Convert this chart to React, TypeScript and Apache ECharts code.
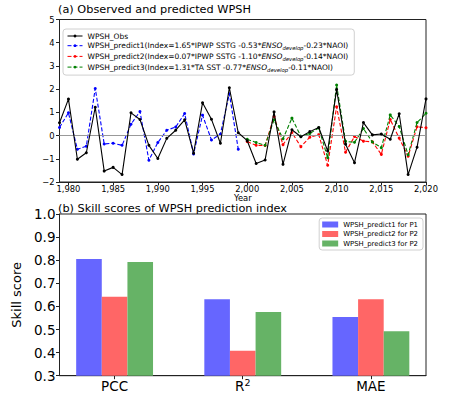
import React, { useEffect, useRef } from 'react';
import * as echarts from 'echarts';

const years = [1979, 1980, 1981, 1982, 1983, 1984, 1985, 1986, 1987, 1988, 1989, 1990, 1991, 1992, 1993, 1994, 1995, 1996, 1997, 1998, 1999, 2000, 2001, 2002, 2003, 2004, 2005, 2006, 2007, 2008, 2009, 2010, 2011, 2012, 2013, 2014, 2015, 2016, 2017, 2018, 2019, 2020];
const obsValues = [0.55, 1.57, -1.02, -0.74, 1.22, -1.53, -1.37, -1.68, 0.98, 0.69, -0.42, -0.99, -0.12, 0.23, 0.68, -0.76, 1.41, 0.70, -0.33, 2.06, 0.12, -0.22, -1.2, -1.05, 1.02, -1.24, 0.25, -0.05, 0.17, 0.35, -0.66, 1.98, -0.37, -1.17, 0.56, 0.03, 0.07, -0.16, 0.94, -1.68, -0.5, 1.58];
const predict1Years = [1979, 1980, 1981, 1982, 1983, 1984, 1985, 1986, 1987, 1988, 1989, 1990, 1991, 1992, 1993, 1994, 1995, 1996, 1997, 1998, 1999];
const predict1Values = [0.35, 0.98, -0.59, -0.46, 2.03, -0.36, -0.33, -0.42, 0.49, 1.04, -1.06, -0.3, 0.23, 0.37, 0.95, -0.79, 0.88, -0.19, 0.06, 1.8, -0.59];
const predict23Years = [2000, 2001, 2002, 2003, 2004, 2005, 2006, 2007, 2008, 2009, 2010, 2011, 2012, 2013, 2014, 2015, 2016, 2017, 2018, 2019, 2020];
const predict2Values = [-0.26, -0.42, -0.43, 0.82, -0.39, 0.13, -0.48, -0.07, 0.04, -1.28, 1.24, -0.72, -0.04, -0.24, -0.27, -0.81, 0.69, -0.11, -0.89, 0.38, 0.34];
const predict3Values = [-0.16, -0.3, -0.42, 0.68, -0.14, 0.75, -0.03, 0.09, 0.33, -0.95, 2.18, -0.25, -0.29, 0.3, -0.28, -0.52, 0.89, 0.39, -0.83, 0.56, 0.96];
const yearTicks = [1980, 1985, 1990, 1995, 2000, 2005, 2010, 2015, 2020];

const metrics = ['PCC', 'R2', 'MAE'];
const skillP1 = [0.805, 0.631, 0.554];
const skillP2 = [0.642, 0.408, 0.631];
const skillP3 = [0.792, 0.576, 0.492];
const metricTicks = [0, 1, 2];

const FONT = 'DejaVu Sans';

const legendText: Record<string, string> = {
  WPSH_Obs: '{n|WPSH_Obs}',
  WPSH_predict1: '{n|WPSH_predict1(Index=1.65*IPWP SSTG -0.53*}{i|ENSO}{s|develop}{n|-0.23*NAOI)}',
  WPSH_predict2: '{n|WPSH_predict2(Index=0.07*IPWP SSTG -1.10*}{i|ENSO}{s|develop}{n|-0.14*NAOI)}',
  WPSH_predict3: '{n|WPSH_predict3(Index=1.31*TA SST -0.77*}{i|ENSO}{s|develop}{n|-0.11*NAOI)}',
};

const pair = (xs: number[], ys: number[]) => xs.map((x, i) => [x, ys[i]]);
const fmtNeg = (v: number) => (v < 0 ? '\u2212' + Math.abs(v) : String(v));

export default function App() {
  const ref = useRef<HTMLDivElement>(null);
  useEffect(() => {
    if (!ref.current) return;
    const chart = echarts.init(ref.current, undefined, { renderer: 'svg' });
    const lineBase = {
      type: 'line' as const,
      xAxisIndex: 0,
      yAxisIndex: 0,
      symbol: 'circle',
      symbolSize: 3,
      clip: true,
    };
    const barSeries = (name: string, vals: number[], offset: number, color: string) => ({
      type: 'bar' as const,
      name,
      xAxisIndex: 1,
      yAxisIndex: 1,
      barWidth: 25.6,
      barGap: '-100%',
      itemStyle: { color },
      data: vals.map((v, i) => [metricTicks[i] + offset, v]),
    });
    const axisLine = { show: true, onZero: false, lineStyle: { color: '#222', width: 1 } };
    chart.setOption({
      animation: false,
      textStyle: { fontFamily: FONT },
      title: [
        { text: '(a) Observed and predicted WPSH', left: 58, top: 4, padding: 0, textStyle: { fontSize: 11.3, fontWeight: 'normal', color: '#000', fontFamily: FONT } },
        { text: '(b) Skill scores of WPSH prediction index', left: 58, top: 202, padding: 0, textStyle: { fontSize: 11.3, lineHeight: 12, fontWeight: 'normal', color: '#000', fontFamily: FONT } },
      ],
      grid: [
        { left: 59.5, top: 19.5, width: 366.5, height: 162.5, show: true, borderColor: '#222', borderWidth: 1, backgroundColor: 'transparent' },
        { left: 59.5, top: 214, width: 366.5, height: 161.7, show: true, borderColor: '#222', borderWidth: 1, backgroundColor: 'transparent' },
      ],
      legend: [
        {
          data: ['WPSH_Obs', 'WPSH_predict1', 'WPSH_predict2', 'WPSH_predict3'],
          orient: 'vertical',
          left: 63,
          top: 29,
          padding: [3, 6, 3, 4],
          itemWidth: 15,
          itemHeight: 3.5,
          itemGap: 1.7,
          lineStyle: { width: 1 },
          backgroundColor: 'rgba(255,255,255,0.8)',
          borderColor: '#d0d0d0',
          borderWidth: 1,
          borderRadius: 3,
          formatter: (name: string) => legendText[name],
          textStyle: {
            fontFamily: FONT,
            fontSize: 7.5,
            color: '#000',
            rich: {
              n: { fontSize: 7.5, fontFamily: FONT, color: '#000', lineHeight: 10 },
              i: { fontSize: 7.5, fontFamily: FONT, fontStyle: 'italic', color: '#000', lineHeight: 10 },
              s: { fontSize: 5.3, fontFamily: FONT, fontStyle: 'italic', color: '#000', verticalAlign: 'bottom', lineHeight: 6 },
            },
          },
        },
        {
          data: ['WPSH_predict1 for P1', 'WPSH_predict2 for P2', 'WPSH_predict3 for P2'],
          orient: 'vertical',
          right: 51,
          top: 218,
          padding: [3, 5, 3, 3],
          itemWidth: 16,
          itemHeight: 6,
          itemGap: 2.5,
          icon: 'rect',
          backgroundColor: 'rgba(255,255,255,0.8)',
          borderColor: '#d0d0d0',
          borderWidth: 1,
          borderRadius: 3,
          textStyle: { fontFamily: FONT, fontSize: 6.9, color: '#000' },
        },
      ],
      xAxis: [
        {
          type: 'value',
          gridIndex: 0,
          min: 1979,
          max: 2020,
          name: 'Year',
          nameLocation: 'middle',
          nameGap: 11.5,
          nameMoveOverlap: false,
          nameTextStyle: { fontSize: 8.4, lineHeight: 8, color: '#000', fontFamily: FONT },
          splitLine: { show: false },
          axisLine,
          axisTick: { show: true, length: 3.5, customValues: yearTicks, lineStyle: { color: '#222' } },
          axisLabel: { customValues: yearTicks, fontSize: 8.4, lineHeight: 8, color: '#000', margin: 3, fontFamily: FONT },
        },
        {
          type: 'value',
          gridIndex: 1,
          min: -0.43,
          max: 2.43,
          splitLine: { show: false },
          axisLine,
          axisTick: { show: true, length: 3.5, customValues: metricTicks, lineStyle: { color: '#222' } },
          axisLabel: {
            customValues: metricTicks,
            fontSize: 13.5,
            color: '#000',
            margin: 2,
            fontFamily: FONT,
            formatter: (v: number) => {
              const m = metrics[Math.round(v)];
              return m === 'R2' ? '{a|R}{b|2}' : '{a|' + m + '}';
            },
            rich: {
              a: { fontSize: 13.5, fontFamily: FONT, color: '#000', lineHeight: 16 },
              b: { fontSize: 9.5, fontFamily: FONT, color: '#000', verticalAlign: 'top', lineHeight: 10 },
            },
          },
        },
      ],
      yAxis: [
        {
          type: 'value',
          gridIndex: 0,
          min: -2,
          max: 5,
          interval: 1,
          splitLine: { show: false },
          axisLine,
          axisTick: { show: true, length: 3.5, lineStyle: { color: '#222' } },
          axisLabel: { fontSize: 8.4, color: '#000', margin: 5, fontFamily: FONT, formatter: (v: number) => fmtNeg(v) },
        },
        {
          type: 'value',
          gridIndex: 1,
          min: 0.3,
          max: 1.0,
          interval: 0.1,
          name: 'Skill score',
          nameLocation: 'middle',
          nameGap: 36,
          nameTextStyle: { fontSize: 13, color: '#000', fontFamily: FONT },
          splitLine: { show: false },
          axisLine,
          axisTick: { show: true, length: 3.5, lineStyle: { color: '#222' } },
          axisLabel: { fontSize: 13.5, color: '#000', margin: 4, fontFamily: FONT, formatter: (v: number) => v.toFixed(1) },
        },
      ],
      series: [
        {
          ...lineBase,
          name: 'WPSH_Obs',
          data: pair(years, obsValues),
          color: '#000',
          lineStyle: { color: '#000', width: 1.1 },
          itemStyle: { color: '#000' },
          z: 5,
          markLine: {
            silent: true,
            symbol: 'none',
            label: { show: false },
            lineStyle: { color: '#999', type: 'solid', width: 1 },
            data: [{ yAxis: 0 }],
          },
        },
        {
          ...lineBase,
          name: 'WPSH_predict1',
          data: pair(predict1Years, predict1Values),
          color: '#0000ff',
          lineStyle: { color: '#0000ff', width: 1.1, type: [4, 2] },
          itemStyle: { color: '#0000ff' },
          z: 4,
        },
        {
          ...lineBase,
          name: 'WPSH_predict2',
          data: pair(predict23Years, predict2Values),
          color: '#ff0000',
          lineStyle: { color: '#ff0000', width: 1.1, type: [4, 2] },
          itemStyle: { color: '#ff0000' },
          z: 3,
        },
        {
          ...lineBase,
          name: 'WPSH_predict3',
          data: pair(predict23Years, predict3Values),
          color: '#008000',
          lineStyle: { color: '#008000', width: 1.1, type: [4, 2] },
          itemStyle: { color: '#008000' },
          z: 4,
        },
        barSeries('WPSH_predict1 for P1', skillP1, -0.2, '#6666ff'),
        barSeries('WPSH_predict2 for P2', skillP2, 0, '#ff6666'),
        barSeries('WPSH_predict3 for P2', skillP3, 0.2, '#66b366'),
      ],
    });
    return () => chart.dispose();
  }, []);
  return <div ref={ref} style={{ position: 'fixed', left: 0, top: 0, width: 474, height: 396, background: '#fff' }} />;
}
